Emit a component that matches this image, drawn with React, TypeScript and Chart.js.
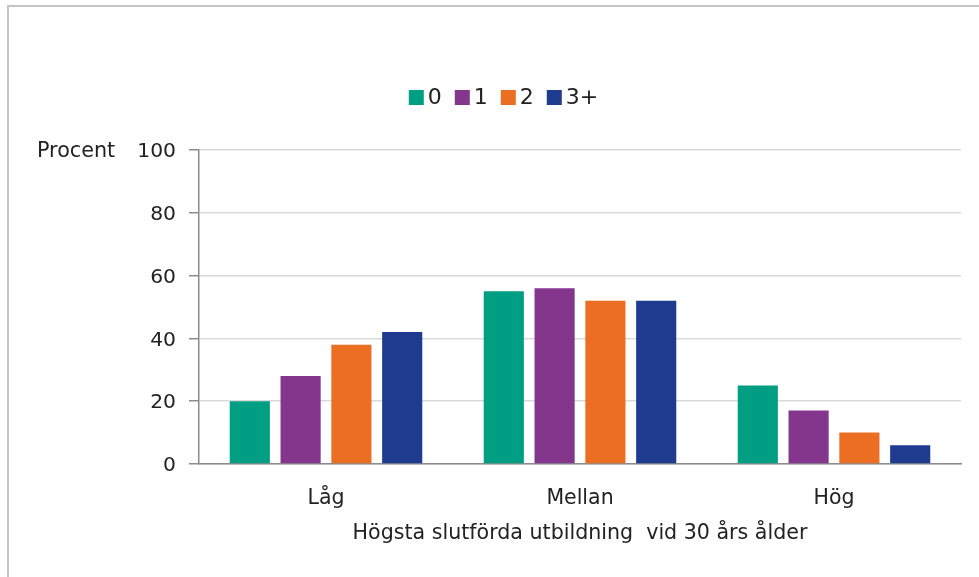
import React, { useEffect, useRef } from "react";
import { Chart, registerables } from "chart.js";

Chart.register(...registerables);

const categories = ["Låg", "Mellan", "Hög"];
const seriesLabels = ["0", "1", "2", "3+"];
const series0 = [20, 55, 25];
const series1 = [28, 56, 17];
const series2 = [38, 52, 10];
const series3 = [42, 52, 6];
const seriesColors = ["#009E82", "#84368D", "#EC6E23", "#1F3B8F"];
const yTicks = [0, 20, 40, 60, 80, 100];
const yAxisLabel = "Procent";
const xAxisTitle = "Högsta slutförda utbildning  vid 30 års ålder";

const FONT = "'DejaVu Sans', Verdana, sans-serif";
const TEXT = "#222222";

const overlayPlugin = {
  id: "overlay",
  afterDraw(chart: any) {
    const ctx = chart.ctx;
    const yScale = chart.scales.y;
    ctx.save();
    ctx.font = `20.7px ${FONT}`;
    ctx.fillStyle = TEXT;
    ctx.textBaseline = "middle";
    ctx.textAlign = "left";
    // y axis label
    ctx.fillText(yAxisLabel, 37, yScale.getPixelForValue(100) + 2);
    // legend
    ctx.font = `22px ${FONT}`;
    const box = 15;
    const gapText = 4;
    const gapItem = 13;
    const widths = chart.data.datasets.map((d: any) => ctx.measureText(d.label).width);
    let total = 0;
    widths.forEach((w: number, i: number) => {
      total += box + gapText + w + (i < widths.length - 1 ? gapItem : 0);
    });
    let x = chart.width / 2 + 14 - total / 2;
    const cy = 97.5;
    chart.data.datasets.forEach((d: any, i: number) => {
      ctx.fillStyle = d.backgroundColor;
      ctx.fillRect(x, cy - box / 2, box, box);
      x += box + gapText;
      ctx.fillStyle = TEXT;
      ctx.fillText(d.label, x, cy + 1);
      x += widths[i] + gapItem;
    });
    ctx.restore();
  },
};

export default function App() {
  const ref = useRef<HTMLCanvasElement | null>(null);
  useEffect(() => {
    if (!ref.current) return;
    const data = [series0, series1, series2, series3];
    const chart = new Chart(ref.current, {
      type: "bar",
      data: {
        labels: categories,
        datasets: seriesLabels.map((label, i) => ({
          label,
          data: data[i],
          backgroundColor: seriesColors[i],
          categoryPercentage: 0.8,
          barPercentage: 0.79,
        })),
      },
      options: {
        responsive: false,
        animation: false,
        layout: { padding: { left: 0, top: 150, right: 18, bottom: 0 } },
        plugins: {
          legend: { display: false },
          tooltip: { enabled: false },
        },
        scales: {
          x: {
            grid: { display: false },
            border: { display: true, color: "#8c8c8c", width: 1.5 },
            ticks: {
              color: TEXT,
              font: { family: FONT, size: 20.5 },
              padding: 14,
              maxRotation: 0,
            },
            title: {
              display: true,
              text: xAxisTitle,
              color: TEXT,
              font: { family: FONT, size: 20.6 },
              padding: { top: 0, bottom: 31 },
            },
            afterFit: (s: any) => {
              s.height = 113;
            },
          },
          y: {
            min: 0,
            max: 100,
            afterBuildTicks: (s: any) => {
              s.ticks = yTicks.map((v) => ({ value: v }));
            },
            grid: {
              color: "#d9d9d9",
              lineWidth: 1.5,
              tickColor: "#8c8c8c",
              tickLength: 10,
            },
            border: { display: true, color: "#8c8c8c", width: 1.5 },
            ticks: {
              color: TEXT,
              font: { family: FONT, size: 20.3 },
              padding: 13,
              labelOffset: 2,
            },
            afterFit: (s: any) => {
              s.width = 199;
            },
          },
        },
      },
      plugins: [overlayPlugin],
    });
    return () => chart.destroy();
  }, []);
  return (
    <div style={{ position: "absolute", left: 0, top: 0, width: 979, height: 577, background: "#fff" }}>
      <div
        style={{
          position: "absolute",
          left: 7,
          top: 5,
          right: 0,
          bottom: 0,
          borderLeft: "2px solid #c4c4c4",
          borderTop: "2px solid #c4c4c4",
        }}
      />
      <canvas ref={ref} width={979} height={577} style={{ position: "absolute", left: 0, top: 0, display: "block" }} />
    </div>
  );
}
